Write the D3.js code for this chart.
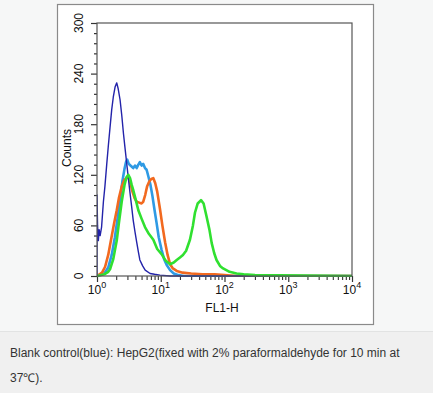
<!DOCTYPE html>
<html>
<head>
<meta charset="utf-8">
<style>
body {
  margin: 0;
  background: #f0f0f0;
  font-family: "Liberation Sans", Arial, sans-serif;
}
.caption {
  fill: #333;
  font-size: 12px;
}
.axis-text {
  fill: #111;
  font-size: 12px;
}
</style>
</head>
<body>
<svg width="433" height="393"></svg>
<script src="https://cdn.jsdelivr.net/npm/d3@7/dist/d3.min.js"></script>
<script>

// blank control (dark blue)
var blankX = [1.0, 1.0, 1.02, 1.05, 1.08, 1.12, 1.18, 1.26, 1.33, 1.42, 1.5, 1.6, 1.7, 1.8, 1.92, 2.04, 2.15, 2.3, 2.45, 2.6, 2.75, 2.92, 3.1, 3.3, 3.5, 3.7, 3.95, 4.2, 4.45, 4.7, 5.2, 5.7, 6.8, 8, 9.7, 14, 10000];
var blankY = [0, 96, 60, 42, 55, 48, 58, 88, 106, 132, 153, 176, 197, 212, 224, 229, 222, 209, 190, 169, 152, 134, 116, 98, 82, 66, 52, 40, 29, 19, 12, 7, 3, 2, 1, 0, 0];

// light blue
var skyX = [1.0, 1.3, 1.5, 1.7, 1.9, 2.1, 2.3, 2.5, 2.7, 2.85, 2.98, 3.15, 3.35, 3.7, 3.95, 4.2, 4.45, 4.7, 5.0, 5.3, 5.66, 6.0, 6.4, 6.9, 7.4, 8.0, 8.6, 9.3, 10.3, 11.3, 12.4, 14, 16, 19, 23, 10000];
var skyY = [0, 3, 10, 25, 45, 68, 90, 112, 127, 135, 138, 133, 131, 128, 131, 128, 132, 135, 131, 133, 128, 126, 118, 108, 95, 78, 63, 46, 31, 20, 13, 7, 3, 1, 0, 0];

// orange
var orangeX = [1.0, 1.2, 1.34, 1.5, 1.7, 1.85, 2.04, 2.2, 2.44, 2.7, 2.9, 3.1, 3.3, 3.6, 3.9, 4.2, 4.6, 5.0, 5.3, 5.7, 6.1, 6.6, 7.1, 7.65, 8.2, 8.8, 9.7, 10.6, 11.7, 12.8, 14, 15.5, 17.8, 22, 30, 45, 70, 100, 150, 10000];
var orangeY = [0, 4, 11, 25, 47, 62, 78, 92, 106, 114, 116, 118, 112, 100, 92, 88, 87, 86, 88, 96, 106, 112, 115, 116, 110, 100, 80, 60, 40, 25, 14, 9, 6, 4, 3, 2, 2, 1, 0, 0];

// green
var greenX = [1.0, 1.3, 1.5, 1.6, 1.8, 2.04, 2.2, 2.44, 2.7, 2.9, 3.1, 3.3, 3.5, 3.7, 4.0, 4.45, 5.0, 5.66, 6.5, 7.65, 8.8, 10.3, 12, 14, 16, 17.8, 20, 22.3, 25, 28.7, 32, 34.4, 38, 42.8, 47, 52.5, 58, 63, 69, 75, 85, 95, 120, 155, 200, 300, 10000];
var greenY = [0, 2, 5, 8, 20, 42, 62, 88, 108, 117, 120, 116, 108, 102, 92, 78, 68, 58, 50, 43, 32, 26, 18, 14, 16, 19, 22, 25, 30, 43, 60, 75, 86, 90, 86, 70, 55, 39, 27, 19, 12, 9, 5, 3, 2, 1, 0];

var xTicks = [1, 10, 100, 1000, 10000];
var xExponents = ["0", "1", "2", "3", "4"];
var yTicks = [0, 60, 120, 180, 240, 300];

var series = [
  {name: "sky", x: skyX, y: skyY, color: "#2f9ae4", width: 2.6},
  {name: "orange", x: orangeX, y: orangeY, color: "#f2691f", width: 2.6},
  {name: "blank", x: blankX, y: blankY, color: "#2323aa", width: 1.4},
  {name: "green", x: greenX, y: greenY, color: "#30e030", width: 2.6}
];

var svg = d3.select("svg");

// page panels
svg.append("rect").attr("x", 0).attr("y", 0).attr("width", 433).attr("height", 331).attr("fill", "#f6f7f7");
svg.append("line").attr("x1", 0).attr("x2", 433).attr("y1", 331.5).attr("y2", 331.5).attr("stroke", "#e2e3e3");
svg.append("rect").attr("x", 57.5).attr("y", 4.5).attr("width", 316).attr("height", 320)
  .attr("fill", "#fff").attr("stroke", "#8a8a8a").attr("stroke-width", 1.2);

var pLeft = 97, pRight = 352, pTop = 23, pBottom = 276;

var x = d3.scaleLog().domain([1, 10000]).range([pLeft, pRight]);
var y = d3.scaleLinear().domain([0, 300]).range([pBottom, pTop]);

var defs = svg.append("defs");
defs.append("clipPath").attr("id", "plot-clip")
  .append("rect").attr("x", pLeft).attr("y", pTop - 2).attr("width", pRight - pLeft).attr("height", pBottom - pTop + 3);

// y axis
var yMinor = d3.range(0, 301, 12);
var yAxis = svg.append("g").attr("transform", "translate(" + pLeft + ",0)")
  .call(d3.axisLeft(y).tickValues(yMinor).tickSize(3).tickFormat(""));
yAxis.select(".domain").remove();
yAxis.selectAll("line").attr("stroke", "#333").attr("stroke-width", 1.2);
yAxis.selectAll(".tick").filter(function(d) { return yTicks.indexOf(d) >= 0; })
  .select("line").attr("x2", -6);

svg.selectAll(".ylab")
  .data(yTicks)
  .enter().append("text")
    .attr("class", "axis-text")
    .attr("text-anchor", "middle")
    .attr("transform", function(d) { return "translate(83," + y(d) + ") rotate(-90)"; })
    .text(function(d) { return d; });

svg.append("text")
  .attr("class", "axis-text")
  .attr("text-anchor", "middle")
  .attr("transform", "translate(71,148) rotate(-90)")
  .text("Counts");

// x axis
var xMinor = [];
xTicks.slice(0, -1).forEach(function(t) {
  for (var k = 2; k < 10; k++) xMinor.push(t * k);
});
var xAxis = svg.append("g").attr("transform", "translate(0," + pBottom + ")")
  .call(d3.axisBottom(x).tickValues(xMinor).tickSize(4).tickFormat(""));
xAxis.select(".domain").remove();
xAxis.selectAll("line").attr("stroke", "#333").attr("stroke-width", 1.1);
var xMajor = svg.append("g").attr("transform", "translate(0," + pBottom + ")")
  .call(d3.axisBottom(x).tickValues(xTicks).tickSize(6).tickFormat(""));
xMajor.select(".domain").remove();
xMajor.selectAll("line").attr("stroke", "#333").attr("stroke-width", 1.2);

var xl = svg.selectAll(".xlab")
  .data(xTicks)
  .enter().append("text")
    .attr("class", "axis-text")
    .attr("text-anchor", "middle")
    .attr("x", function(d) { return x(d); })
    .attr("y", 294);
xl.append("tspan").text("10");
xl.append("tspan").attr("dy", -6).attr("font-size", "9px").text(function(d, i) { return xExponents[i]; });

svg.append("text")
  .attr("class", "axis-text")
  .attr("text-anchor", "middle")
  .attr("x", 222)
  .attr("y", 312)
  .text("FL1-H");

// histograms
var g = svg.append("g").attr("clip-path", "url(#plot-clip)");
series.forEach(function(s) {
  var pts = s.x.map(function(v, i) { return [v, s.y[i]]; });
  g.append("path")
    .datum(pts)
    .attr("fill", "none")
    .attr("stroke", s.color)
    .attr("stroke-width", s.width)
    .attr("stroke-linejoin", "round")
    .attr("d", d3.line().x(function(d) { return x(d[0]); }).y(function(d) { return y(d[1]); }));
});

// plot frame
svg.append("rect")
  .attr("x", pLeft).attr("y", pTop)
  .attr("width", pRight - pLeft).attr("height", pBottom - pTop)
  .attr("fill", "none").attr("stroke", "#555").attr("stroke-width", 1.2);

// caption
var captionLines = ["Blank control(blue): HepG2(fixed with 2% paraformaldehyde for 10 min at", "37\u2103)."];
svg.selectAll(".caption")
  .data(captionLines)
  .enter().append("text")
    .attr("class", "caption")
    .attr("x", 10)
    .attr("y", function(d, i) { return 357 + i * 25; })
    .text(function(d) { return d; });

</script>
</body>
</html>
